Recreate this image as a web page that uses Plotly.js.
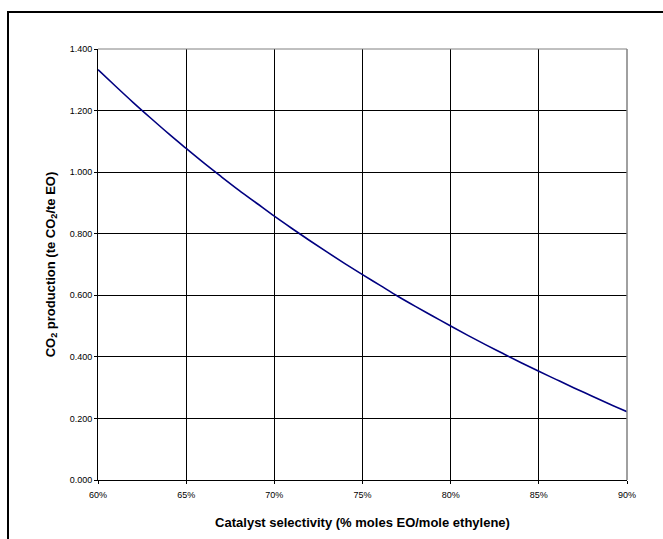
<!DOCTYPE html>
<html>
<head>
<meta charset="utf-8">
<script src="https://cdn.plot.ly/plotly-3.0.1.min.js"></script>
<style>
  html, body { margin: 0; padding: 0; background: #fff; }
  #wrap { position: relative; width: 663px; height: 539px; overflow: hidden; }
  #chart { position: absolute; left: 0; top: 0; width: 663px; height: 539px; }
  #frame { position: absolute; left: 7px; top: 11px; width: 700px; height: 600px; border: 2px solid #000; pointer-events: none; }
</style>
</head>
<body>
<div id="wrap">
  <div id="chart"></div>
  <div id="frame"></div>
</div>
<script>
// Catalyst selectivity (fraction of moles EO per mole ethylene)
const selectivity = [0.60,0.61,0.62,0.63,0.64,0.65,0.66,0.67,0.68,0.69,0.70,0.71,0.72,0.73,0.74,0.75,0.76,0.77,0.78,0.79,0.80,0.81,0.82,0.83,0.84,0.85,0.86,0.87,0.88,0.89,0.90];
// CO2 production (te CO2 / te EO)
const co2Production = [1.333,1.279,1.226,1.175,1.125,1.077,1.030,0.985,0.941,0.899,0.857,0.817,0.778,0.740,0.703,0.667,0.632,0.597,0.564,0.532,0.500,0.469,0.439,0.410,0.381,0.353,0.326,0.299,0.273,0.247,0.222];

const xTickVals = [0.60,0.65,0.70,0.75,0.80,0.85,0.90];
const xTickText = ['60%','65%','70%','75%','80%','85%','90%'];
const yTickVals = [0,0.2,0.4,0.6,0.8,1.0,1.2,1.4];
const yTickText = ['0.000','0.200','0.400','0.600','0.800','1.000','1.200','1.400'];

const trace = {
  x: selectivity, y: co2Production, type: 'scatter', mode: 'lines',
  line: { color: '#000080', width: 1.6, shape: 'spline' },
  hoverinfo: 'skip'
};

const font = 'Arial, "Liberation Sans", sans-serif';
const layout = {
  width: 663, height: 539,
  margin: { l: 98, r: 36, t: 49, b: 59 },
  paper_bgcolor: '#fff', plot_bgcolor: '#fff',
  showlegend: false,
  font: { family: font, color: '#000', size: 9 },
  xaxis: {
    range: [0.6, 0.9], tickvals: xTickVals, ticktext: xTickText,
    showgrid: true, gridcolor: '#000', gridwidth: 1,
    showline: true, linecolor: '#000', linewidth: 1, mirror: false,
    ticks: 'outside', ticklen: 3, tickcolor: '#000',
    ticklabelstandoff: 3,
    tickfont: { family: font, size: 9, color: '#000' },
    zeroline: false,
    title: { text: '<b>Catalyst selectivity (% moles EO/mole ethylene)</b>', font: { family: font, size: 13, color: '#000' }, standoff: 19 }
  },
  yaxis: {
    range: [0, 1.4], tickvals: yTickVals, ticktext: yTickText,
    showgrid: true, gridcolor: '#000', gridwidth: 1,
    showline: true, linecolor: '#000', linewidth: 1, mirror: false,
    ticks: 'outside', ticklen: 3, tickcolor: '#000',
    tickfont: { family: font, size: 9, color: '#000' },
    zeroline: false,
    title: { text: '<b>CO<sub>2</sub> production (te CO<sub>2</sub>/te EO)</b>', font: { family: font, size: 13, color: '#000' }, standoff: 11 }
  },
  shapes: [
    { type: 'line', xref: 'paper', yref: 'paper', x0: 0, x1: 1, y0: 1, y1: 1, line: { color: '#808080', width: 1 } },
    { type: 'line', xref: 'paper', yref: 'paper', x0: 1, x1: 1, y0: 0, y1: 1, line: { color: '#808080', width: 1.5 } }
  ]
};

Plotly.newPlot('chart', [trace], layout, { staticPlot: true, displayModeBar: false });
</script>
</body>
</html>
